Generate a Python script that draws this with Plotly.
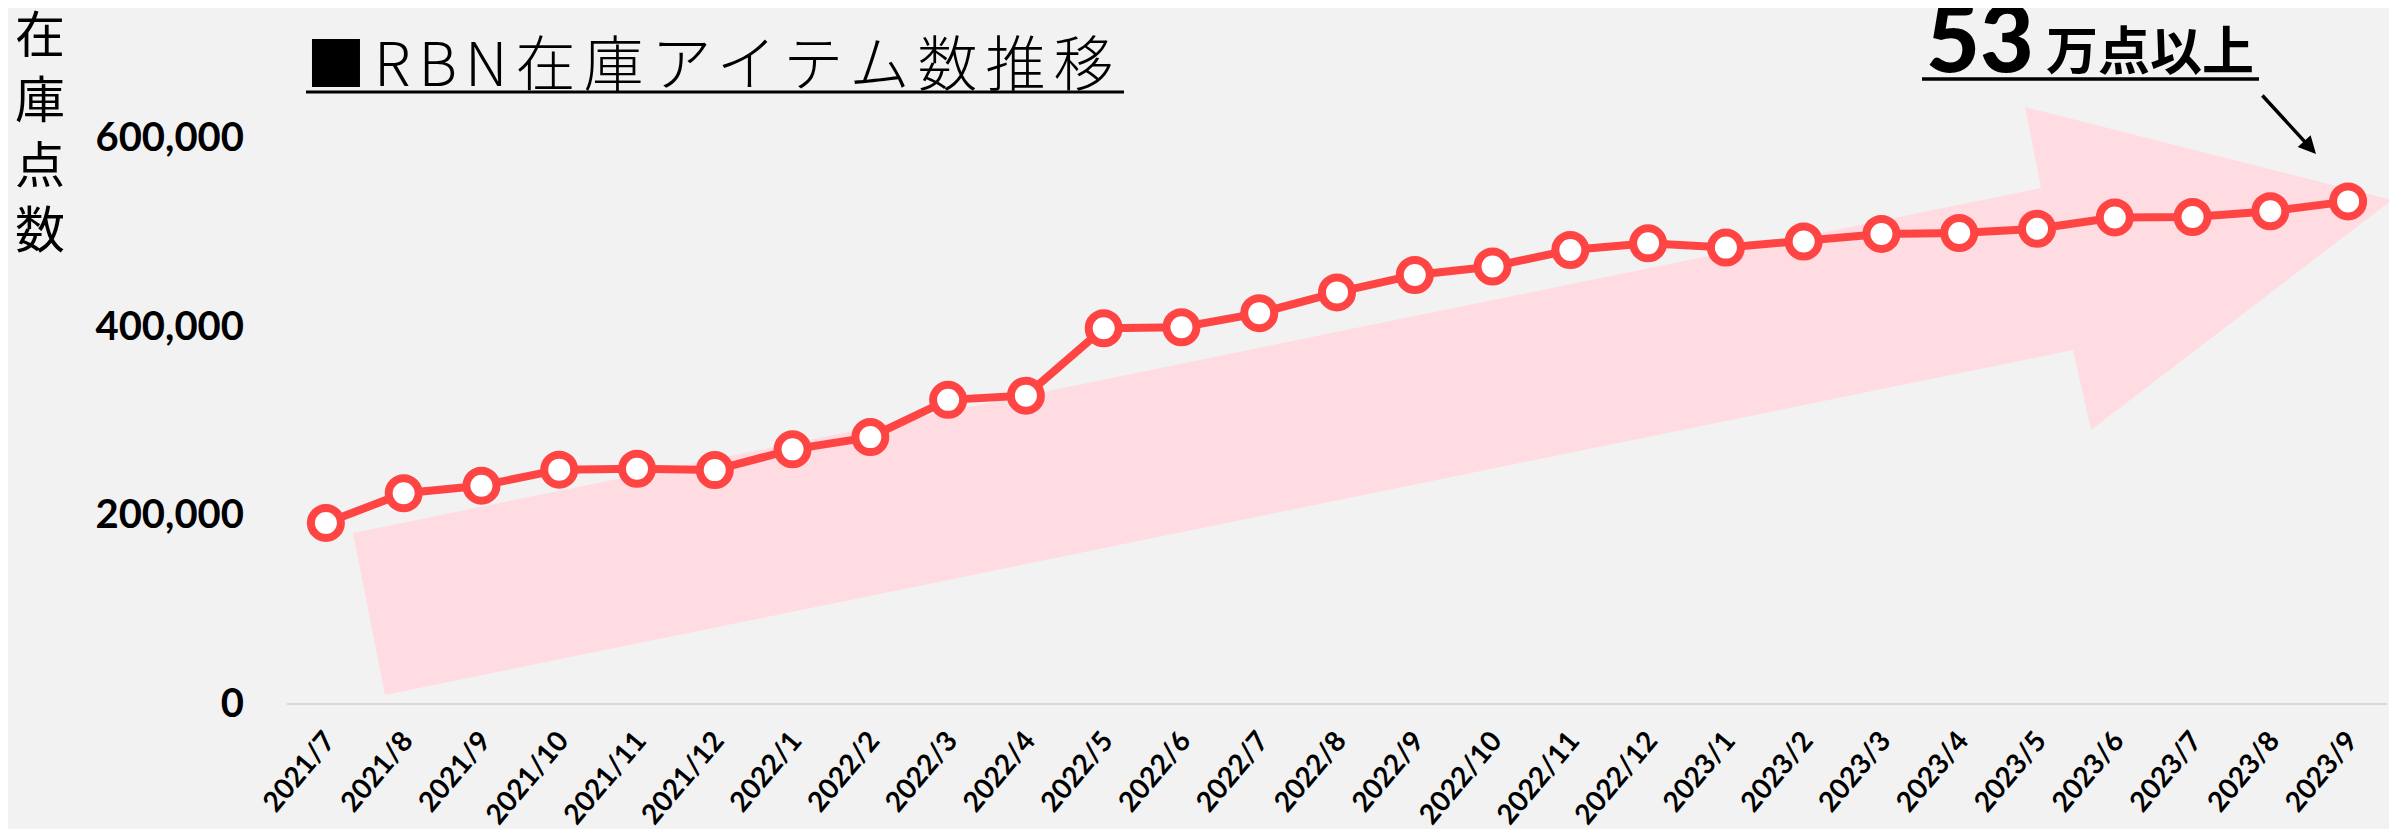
import plotly.graph_objects as go

months = ["2021/7", "2021/8", "2021/9", "2021/10", "2021/11", "2021/12",
          "2022/1", "2022/2", "2022/3", "2022/4", "2022/5", "2022/6",
          "2022/7", "2022/8", "2022/9", "2022/10", "2022/11", "2022/12",
          "2023/1", "2023/2", "2023/3", "2023/4", "2023/5", "2023/6",
          "2023/7", "2023/8", "2023/9"]
stock_items = [191000, 222500, 230500, 247500, 248500, 247000,
               269000, 282000, 321500, 326000, 397500, 398500,
               413500, 435500, 454000, 463000, 480500, 487500,
               483000, 489500, 497500, 498500, 503000, 515000,
               515500, 521500, 532000]
y_ticks = [0, 200000, 400000, 600000]
y_tick_labels = [f"{v:,}" for v in y_ticks]
y_title_chars = ["在", "庫", "点", "数"]

W, H = 2397, 829
OFF = 8  # page body margin
VX0, VX1, VY0, VY1 = 287, 2387, 43, 703
PW, PH = VX1 - VX0, VY1 - VY0
L, T = VX0 - OFF, VY0 - OFF
R, B = W - L - PW, H - T - PH

def px(x, y):
    return (x - VX0) / PW, (VY1 - y) / PH

RED = "#FF4444"
BG = "#F2F2F2"
PINK = "#FFDCE2"

fig = go.Figure()
fig.add_trace(go.Scatter(
    x=months, y=stock_items, mode="lines+markers",
    line=dict(color=RED, width=8),
    marker=dict(size=30, color="white", line=dict(color=RED, width=8)),
    showlegend=False, cliponaxis=False,
))

arrow_px = [(385, 695), (2073, 350), (2091, 430), (2392, 200),
            (2025, 107), (2041, 188), (353, 533)]
pts = [px(x, y) for x, y in arrow_px]
path = "M " + " L ".join(f"{a:.5f},{b:.5f}" for a, b in pts) + " Z"

shapes = [
    dict(type="path", path=path, xref="paper", yref="paper",
         fillcolor=PINK, line=dict(width=0), layer="below"),
]
for (x0, y0, x1, y1, w) in [(306, 92, 1124, 92, 3), (1922, 79, 2259, 79, 3.5)]:
    a0, b0 = px(x0, y0)
    a1, b1 = px(x1, y1)
    shapes.append(dict(type="line", xref="paper", yref="paper",
                       x0=a0, y0=b0, x1=a1, y1=b1,
                       line=dict(color="black", width=w)))

annotations = []
tx, ty = px(713, 59)
annotations.append(dict(text="<span style='letter-spacing:8px'>■RBN在庫アイテム数推移</span>",
                        x=tx, y=ty, xref="paper", yref="paper",
                        xanchor="center", yanchor="middle", showarrow=False,
                        font=dict(family="Noto Sans CJK JP", size=60, color="black", weight=300)))
for i, ch in enumerate(y_title_chars):
    cx, cy = px(40, 31 + 65 * i)
    annotations.append(dict(text=ch, x=cx, y=cy, xref="paper", yref="paper",
                            xanchor="center", yanchor="middle", showarrow=False,
                            font=dict(family="Noto Sans CJK JP", size=50, color="black")))
nx, ny = px(1980, 36)
annotations.append(dict(text="53", x=nx, y=ny, xref="paper", yref="paper",
                        xanchor="center", yanchor="middle", showarrow=False,
                        font=dict(family="Lato", size=93, color="black", weight=900)))
ux, uy = px(2150, 47)
annotations.append(dict(text="万点以上", x=ux, y=uy, xref="paper", yref="paper",
                        xanchor="center", yanchor="middle", showarrow=False,
                        font=dict(family="Noto Sans CJK JP", size=52, color="black", weight="bold")))
ax_, ay_ = px(2316, 154)
annotations.append(dict(text="", x=ax_, y=ay_, xref="paper", yref="paper",
                        showarrow=True, ax=-55, ay=-60, axref="pixel", ayref="pixel",
                        arrowhead=2, arrowsize=1, arrowwidth=3.5, arrowcolor="black"))

fig.update_layout(
    width=W, height=H,
    margin=dict(l=L, r=R, t=T, b=B, autoexpand=False),
    paper_bgcolor=BG, plot_bgcolor=BG,
    shapes=shapes, annotations=annotations,
    xaxis=dict(type="category", range=[-0.5, len(months) - 0.5],
               showgrid=False, zeroline=False, showline=True,
               linecolor="#D9D9D9", linewidth=2, ticks="",
               tickangle=-50, ticklabelstandoff=8,
               tickfont=dict(family="Lato", size=28, color="black", weight="bold")),
    yaxis=dict(range=[0, 700000], tickvals=y_ticks, ticktext=y_tick_labels,
               showgrid=False, zeroline=False, showline=False, ticks="",
               ticklabelstandoff=42,
               tickfont=dict(family="Lato", size=40, color="black", weight="bold")),
)

fig.write_html("out.html")
